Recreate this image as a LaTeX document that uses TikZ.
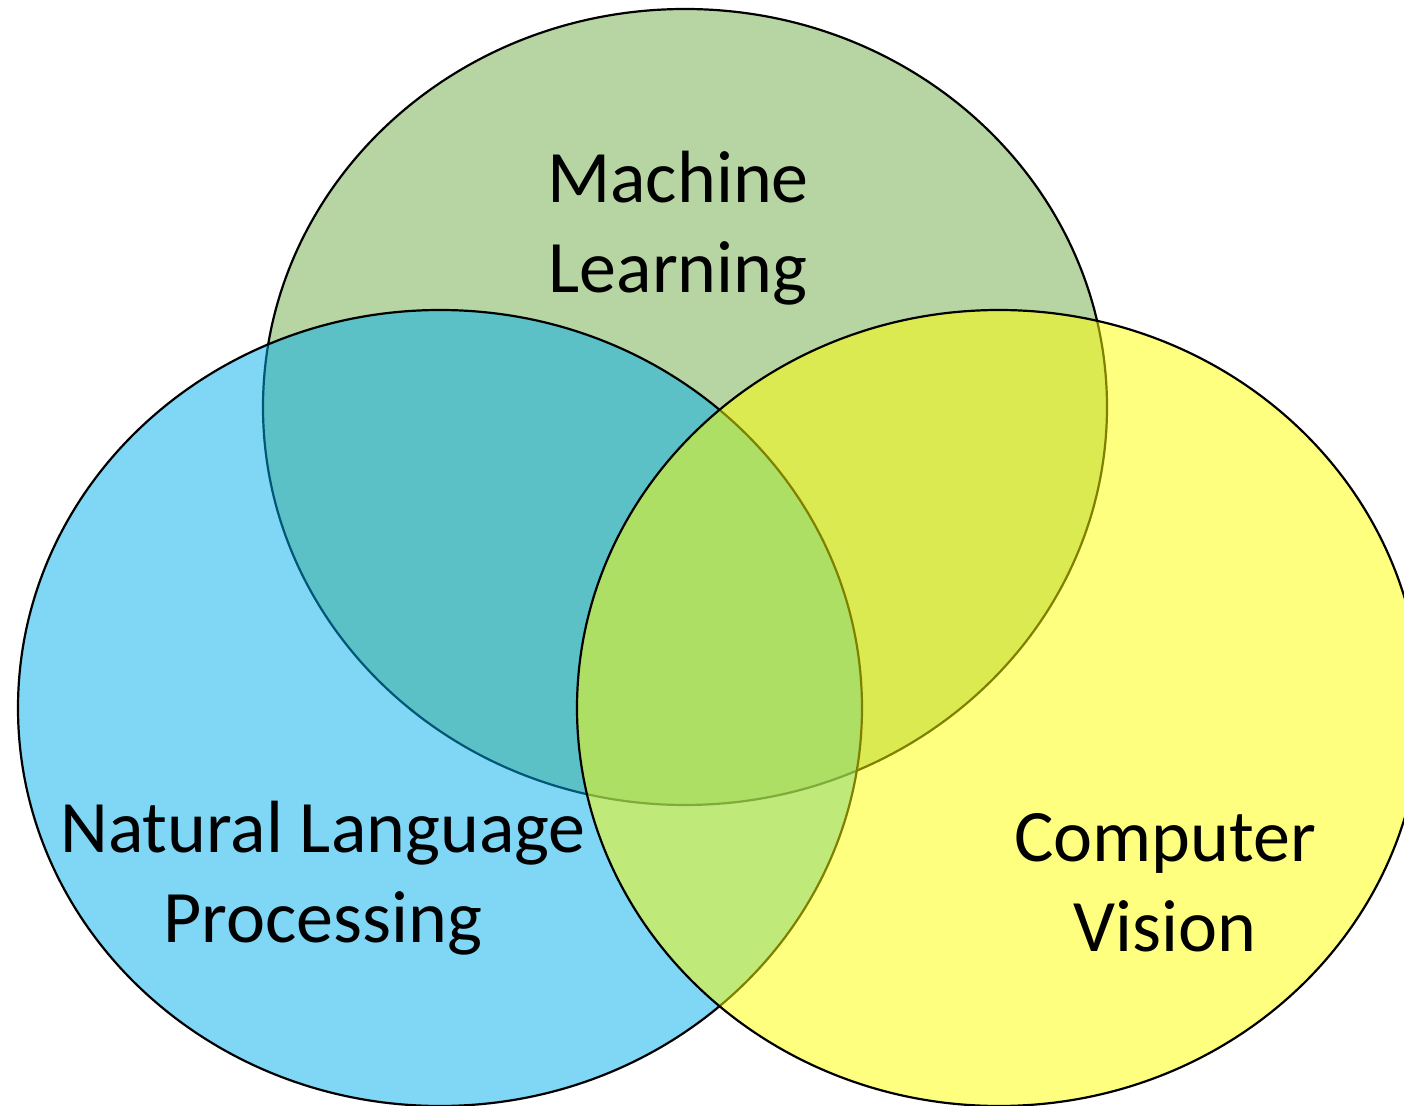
\documentclass[tikz,border=0pt]{standalone}
\usepackage{fontspec}
\setmainfont{Carlito}
\definecolor{mlgreen}{HTML}{70AB47}
\definecolor{nlpblue}{HTML}{00ADEB}
\definecolor{cvyellow}{HTML}{FFFF00}
\tikzset{
  setcircle/.style={draw=black, line width=1.1pt, fill opacity=0.5},
  setlabel/.style={align=center, font=\fontsize{37}{45}\selectfont, inner sep=0pt}
}
\begin{document}
\begin{tikzpicture}[x=0.5pt, y=-0.5pt]
  \clip (0,0) rectangle (1404,1106);
  % the three sets, drawn back to front
  \draw[setcircle, fill=mlgreen]  (685,407) ellipse [x radius=211pt, y radius=199pt];
  \draw[setcircle, fill=nlpblue]  (440,708) ellipse [x radius=211pt, y radius=199pt];
  \draw[setcircle, fill=cvyellow] (999,708) ellipse [x radius=211pt, y radius=199pt];
  % labels
  \node[setlabel] (ml)  at (678,228) {Machine\\Learning};
  \node[setlabel] (nlp) at (323,878) {Natural Language\\Processing};
  \node[setlabel] (cv)  at (1165,883) {Computer\\Vision};
\end{tikzpicture}
\end{document}
